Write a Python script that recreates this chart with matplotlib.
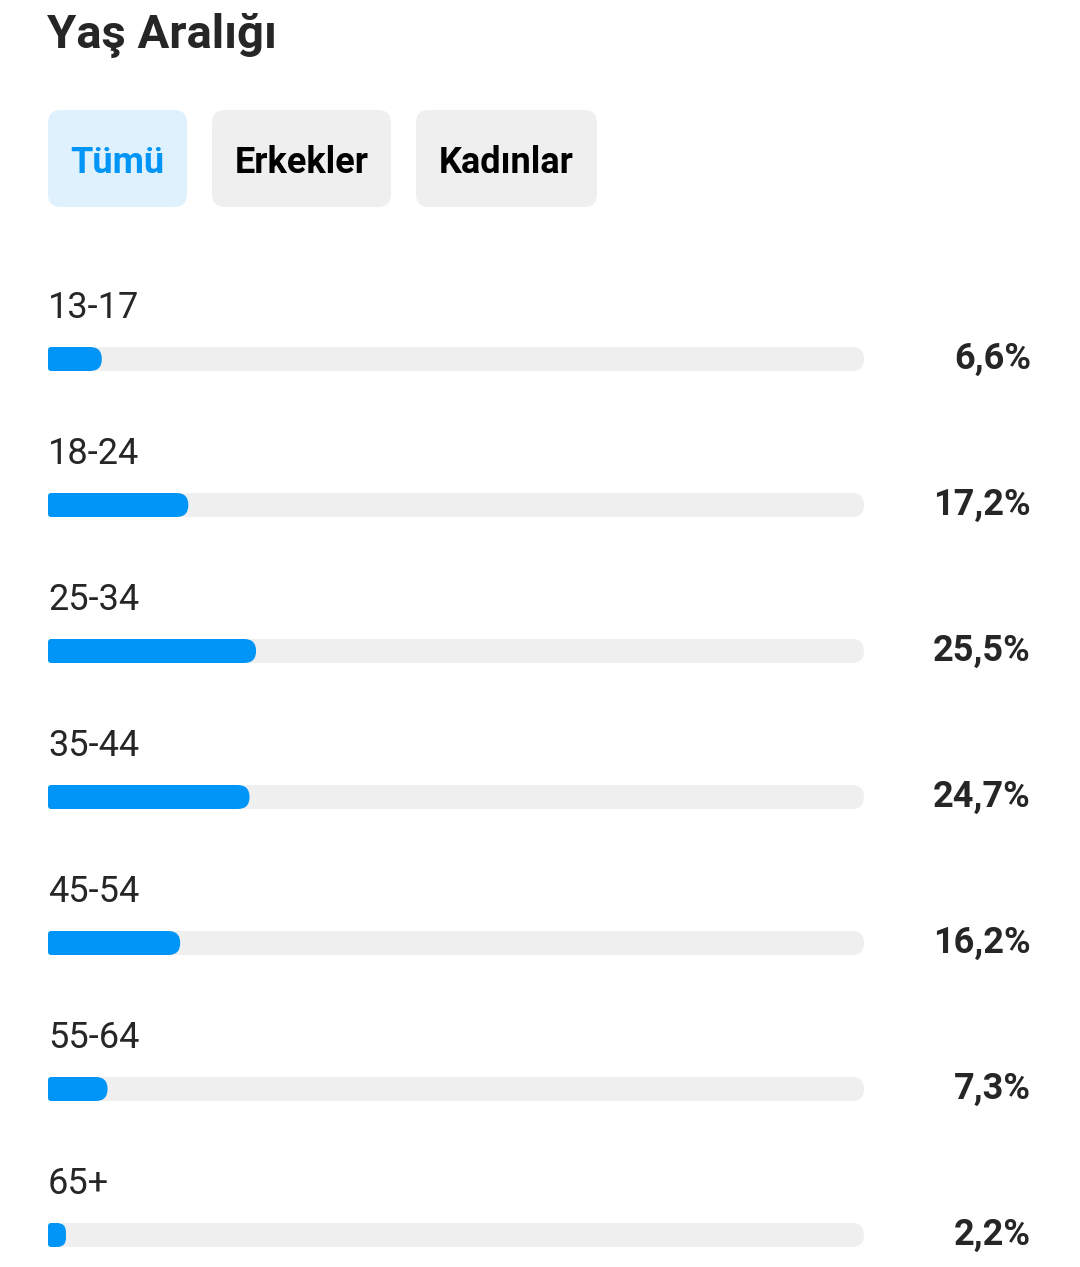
import matplotlib

matplotlib.use("Agg")
import matplotlib.pyplot as plt
from matplotlib.patches import FancyBboxPatch

plt.rcParams["font.family"] = ["Roboto", "DejaVu Sans"]

TITLE = "Yaş Aralığı"
TABS = ["Tümü", "Erkekler", "Kadınlar"]
AGE_GROUPS = ["13-17", "18-24", "25-34", "35-44", "45-54", "55-64", "65+"]
SHARES = [6.6, 17.2, 25.5, 24.7, 16.2, 7.3, 2.2]

BLUE = "#0095f6"
TRACK = "#efefef"
TEXT = "#262626"

W, H = 1080, 1267
fig = plt.figure(figsize=(W / 100, H / 100), dpi=100)
ax = fig.add_axes([0, 0, 1, 1])
ax.set_xlim(0, W)
ax.set_ylim(H, 0)
ax.axis("off")

ax.text(47, 36, TITLE, fontsize=34, fontweight="bold", color=TEXT, va="center", ha="left")

# tab buttons
tab_x = [48, 212, 416]
tab_w = [139, 179, 181]
for i, (name, x, w) in enumerate(zip(TABS, tab_x, tab_w)):
    active = i == 0
    ax.add_patch(FancyBboxPatch((x, 110), w, 97, boxstyle="round,pad=0,rounding_size=13",
                                facecolor="#e0f1fe" if active else TRACK, edgecolor="none"))
    ax.text(x + w / 2, 163, name, fontsize=26, fontweight="bold",
            color=BLUE if active else "#000000", ha="center", va="center")

# bars
x0, track_w, bar_h = 48, 816, 24
for i, (label, share) in enumerate(zip(AGE_GROUPS, SHARES)):
    yc = 359 + i * 146
    ax.text(x0, yc - 51, label, fontsize=26, color=TEXT, ha="left", va="center")
    ax.add_patch(FancyBboxPatch((x0, yc - bar_h / 2), track_w, bar_h,
                                boxstyle="round,pad=0,rounding_size=12",
                                facecolor=TRACK, edgecolor="none"))
    bw = share / 100 * track_w
    ax.add_patch(FancyBboxPatch((x0, yc - bar_h / 2), bw, bar_h,
                                boxstyle=f"round,pad=0,rounding_size={min(12, bw / 2)}",
                                facecolor=BLUE, edgecolor="none"))
    ax.add_patch(FancyBboxPatch((x0, yc - bar_h / 2), bw / 2, bar_h,
                                boxstyle="round,pad=0,rounding_size=3",
                                facecolor=BLUE, edgecolor="none"))
    ax.text(1031, yc, f"{share:.1f}%".replace(".", ","), fontsize=26,
            fontweight="bold", color=TEXT, ha="right", va="center")

fig.savefig("out.png", dpi=100, facecolor="white")
